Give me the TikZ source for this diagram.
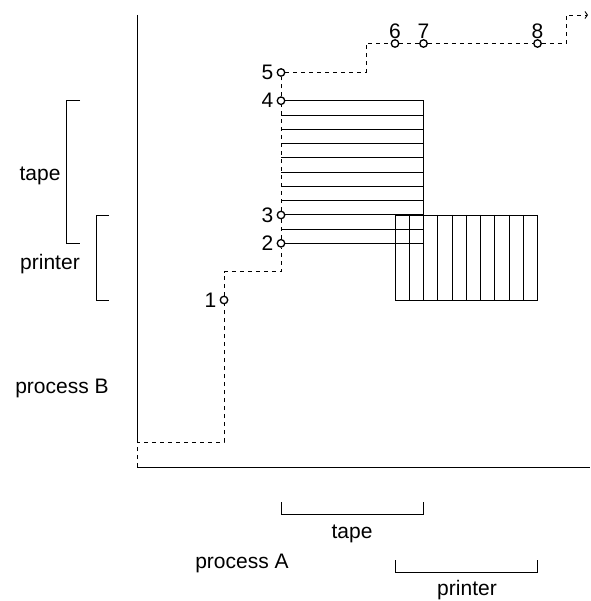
\documentclass[tikz,border=0pt]{standalone}
\usepackage{fontspec}
\setmainfont{Liberation Sans}
\usetikzlibrary{arrows.meta,positioning}
\tikzset{
  lbl/.style={font=\fontsize{21}{25}\selectfont, inner sep=0pt},
  num/.style={font=\fontsize{21}{25}\selectfont, inner sep=0pt},
  ptnode/.style={circle, draw, fill=white, minimum size=7.5pt, inner sep=0pt, line width=1.3pt},
  traj/.style={line width=0.9pt, dash pattern=on 4pt off 4pt},
  solidln/.style={line width=0.9pt},
}
\begin{document}
\begin{tikzpicture}[x=1pt, y=-1pt]
\useasboundingbox (0,0) rectangle (590,601);
% axes
\coordinate (ytop) at (137,15);
\coordinate (O) at (137,467);
\coordinate (c0) at (137,442);
\coordinate (xend) at (590,467);
\draw[solidln] (ytop) -- (c0);
\draw[solidln] (O) -- (xend);
% tape rectangle (horizontal lines)
\foreach \i in {0,...,10} {
  \draw[solidln] (281,{100.7+\i*14.26}) -- (423.5,{100.7+\i*14.26});
}
\draw[solidln] (423.5,100.7) -- (423.5,243.3);
% printer rectangle (vertical lines)
\foreach \j in {0,...,10} {
  \draw[solidln] ({395+\j*14.25},215) -- ({395+\j*14.25},300);
}
\draw[solidln] (395,215) -- (537.5,215);
\draw[solidln] (395,300) -- (537.5,300);
% trajectory points
\node[ptnode] (p1) at (224,300) {};
\node[ptnode] (p2) at (281,243.3) {};
\node[ptnode] (p3) at (281,215) {};
\node[ptnode] (p4) at (281,100.7) {};
\node[ptnode] (p5) at (281,72.5) {};
\node[ptnode] (p6) at (395,43.5) {};
\node[ptnode] (p7) at (423.5,43.5) {};
\node[ptnode] (p8) at (537.5,43.5) {};
\coordinate (c1) at (224,442);
\coordinate (c2) at (224,271.5);
\coordinate (c3) at (281,271.5);
\coordinate (c4) at (366,72.5);
\coordinate (c5) at (366,43.5);
\coordinate (c6) at (566,43.5);
\coordinate (c7) at (566,15);
\coordinate (tend) at (588,15);
\draw[traj, -{Straight Barb[length=2.5pt,width=7pt]}] (O) -- (c0) -- (c1) -- (p1) -- (c2) -- (c3) -- (p2) -- (p3) -- (p4) -- (p5) -- (c4) -- (c5) -- (p6) -- (p7) -- (p8) -- (c6) -- (c7) -- (tend);
% numbers
\node[num, left=3pt of p1] (n1) {1};
\node[num, left=3pt of p2] (n2) {2};
\node[num, left=3pt of p3] (n3) {3};
\node[num, left=3pt of p4] (n4) {4};
\node[num, left=3pt of p5] (n5) {5};
\node[num, above=0.5pt of p6] (n6) {6};
\node[num, above=0.5pt of p7] (n7) {7};
\node[num, above=0.5pt of p8] (n8) {8};
% left brackets
\draw[solidln] (80,100.7) -- (66,100.7) -- (66,243.3) -- (80,243.3);
\draw[solidln] (109,215) -- (96,215) -- (96,300) -- (109,300);
\node[lbl, anchor=mid] (tapeB) at (40,178) {tape};
\node[lbl, anchor=mid] (printerB) at (50,267) {printer};
\node[lbl, anchor=mid] (procB) at (62,391) {process B};
% bottom brackets
\draw[solidln] (281,502) -- (281,514) -- (423.5,514) -- (423.5,502);
\draw[solidln] (395,560) -- (395,572) -- (537.5,572) -- (537.5,560);
\node[lbl, anchor=mid] (tapeA) at (352,536) {tape};
\node[lbl, anchor=mid] (printerA) at (467,593) {printer};
\node[lbl, anchor=mid] (procA) at (242,566) {process A};
\end{tikzpicture}
\end{document}
